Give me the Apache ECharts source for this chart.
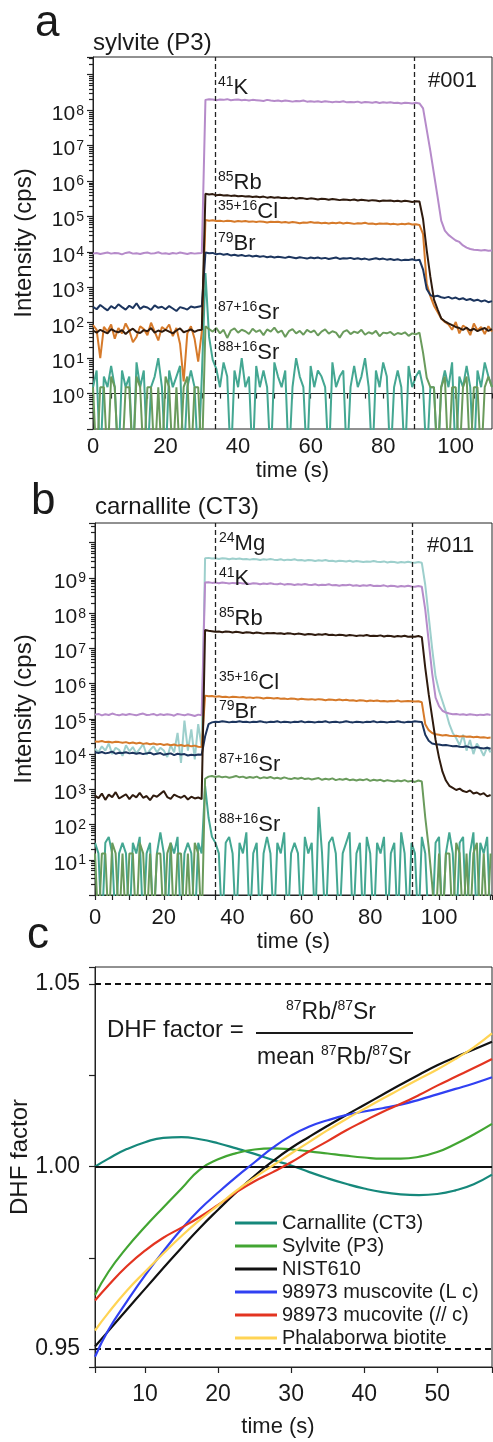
<!DOCTYPE html>
<html><head><meta charset="utf-8">
<script src="https://cdn.jsdelivr.net/npm/echarts@6/dist/echarts.min.js"></script>
<style>html,body{margin:0;padding:0;background:#fff}#c{width:493px;height:1442px}</style>
</head><body><div id="c"></div>
<script>
// ---------- DATA (panels a, b: log10 of intensity in cps, one sample per second; -2 / -1 = zero counts, below axis) ----------
// panel a : sylvite (P3), t = 0..110 s
const aK = [3.95,3.97,3.94,3.96,3.98,3.95,3.97,3.96,3.93,3.97,3.99,3.95,3.96,3.94,3.97,3.98,3.95,3.96,3.99,3.95,3.96,3.94,3.97,3.95,3.98,3.96,3.94,3.97,3.95,3.96,3.97,
8.29,8.31,8.30,8.28,8.30,8.29,8.31,8.28,8.29,8.30,8.28,8.29,8.27,8.29,8.28,8.27,8.26,8.29,8.27,8.26,8.27,8.25,8.27,8.26,8.24,8.26,8.25,8.27,8.24,8.25,
8.24,8.25,8.23,8.25,8.24,8.22,8.24,8.23,8.25,8.22,8.23,8.22,8.24,8.21,8.23,8.22,8.21,8.23,8.20,8.22,8.21,8.22,8.20,8.21,8.19,8.21,8.20,8.19,8.21,8.19,
8.05,7.45,6.85,6.20,5.55,4.88,4.60,4.48,4.40,4.32,4.28,4.18,4.12,4.08,4.06,4.05,4.04,4.05,4.03,4.04];
const aRb = [1.78,1.72,1.80,1.75,1.70,1.82,1.76,1.73,1.79,1.68,1.77,1.83,1.74,1.71,1.79,1.76,1.85,1.72,1.78,1.74,1.80,1.75,1.70,1.78,1.84,1.73,1.77,1.81,1.74,1.79,1.80,
5.64,5.62,5.63,5.60,5.61,5.59,5.60,5.58,5.59,5.57,5.58,5.56,5.57,5.55,5.56,5.54,5.56,5.53,5.55,5.53,5.54,5.52,5.53,5.51,5.53,5.50,5.52,5.51,5.49,5.51,
5.50,5.48,5.50,5.49,5.47,5.49,5.48,5.46,5.48,5.47,5.46,5.48,5.45,5.47,5.46,5.44,5.46,5.45,5.43,5.45,5.44,5.45,5.43,5.44,5.42,5.44,5.43,5.41,5.43,5.42,
4.92,4.05,3.30,2.65,2.38,2.12,2.04,1.98,1.93,1.88,1.85,1.80,1.86,1.78,1.83,1.76,1.81,1.85,1.77,1.82];
const aCl = [1.93,1.80,1.00,1.88,1.75,1.95,1.55,1.85,1.70,1.98,1.78,1.45,1.60,1.90,1.82,1.65,2.00,1.75,1.50,1.88,1.80,1.95,1.62,1.85,1.40,0.34,1.70,1.90,1.55,0.90,1.75,
4.90,4.88,4.89,4.87,4.88,4.86,4.88,4.87,4.85,4.87,4.86,4.87,4.85,4.86,4.84,4.86,4.85,4.83,4.85,4.84,4.85,4.83,4.84,4.82,4.84,4.83,4.81,4.83,4.82,4.84,
4.82,4.83,4.81,4.82,4.80,4.82,4.81,4.83,4.80,4.82,4.81,4.79,4.81,4.80,4.82,4.79,4.80,4.78,4.80,4.79,4.80,4.78,4.79,4.77,4.79,4.78,4.80,4.77,4.78,4.76,
4.50,3.10,2.75,2.48,2.30,2.12,2.02,1.95,1.80,2.02,1.70,1.92,1.85,1.65,1.98,1.78,1.88,1.68,1.90,1.75];
const aBr = [2.45,2.38,2.50,2.42,2.35,2.47,2.40,2.52,2.44,2.37,2.48,2.41,2.55,2.39,2.46,2.43,2.36,2.49,2.42,2.45,2.38,2.47,2.40,2.33,2.44,2.41,2.37,2.46,2.43,2.45,2.47,
3.98,3.96,3.97,3.93,3.95,3.92,3.94,3.90,3.92,3.89,3.91,3.88,3.90,3.87,3.89,3.86,3.88,3.85,3.87,3.84,3.86,3.85,3.83,3.86,3.84,3.82,3.85,3.83,3.81,3.84,
3.82,3.84,3.81,3.83,3.80,3.82,3.84,3.80,3.82,3.81,3.83,3.80,3.82,3.79,3.81,3.78,3.80,3.82,3.79,3.81,3.78,3.80,3.77,3.79,3.76,3.78,3.77,3.79,3.76,3.78,
3.50,2.95,2.78,2.74,2.76,2.72,2.70,2.73,2.68,2.71,2.66,2.69,2.64,2.67,2.62,2.65,2.60,2.63,2.58,2.61];
const aSr87 = [0.18,-2,0.18,0.18,-2,0.48,0.18,-2,-2,0.18,0.18,-2,0.48,0.18,-2,0.18,0.18,-2,0.18,-2,0.48,0.18,-2,0.18,-2,0.18,0.48,-2,0.18,0.18,-2,
1.90,1.82,1.75,1.85,1.70,1.80,1.57,1.78,1.84,1.72,1.80,1.76,1.68,1.83,1.74,1.79,1.65,1.81,1.75,1.86,1.72,1.78,1.60,1.76,1.82,1.70,1.77,1.66,1.80,1.73,
1.78,1.64,1.75,1.81,1.69,1.76,1.72,1.58,1.74,1.79,1.68,1.75,1.71,1.80,1.66,1.73,1.69,1.77,1.62,1.72,1.70,1.74,1.65,1.71,1.68,1.73,1.63,1.70,1.67,1.72,
1.15,0.45,0.18,0.18,-2,0.18,0.48,-2,0.18,0.18,-2,0.18,0.48,-2,0.18,0.18,-2,0.18,0.48,0.18];
const aSr88 = [0.18,0.65,-2,0.48,0.18,0.78,0.18,-2,0.65,0.18,0.48,-2,0.88,0.18,0.65,-2,0.18,0.48,1.0,0.18,-2,0.65,0.18,0.48,0.78,-2,0.18,0.65,0.18,-2,0.48,
3.4,1.6,0.95,0.7,
0.18,0.88,0.48,-2,0.65,0.18,1.0,0.18,0.48,-2,0.78,0.18,0.65,0.18,-2,0.88,0.48,0.18,0.65,-2,0.18,1.0,0.48,0.18,-2,0.78,0.18,0.65,0.48,0.18,
-2,0.88,0.18,0.48,0.65,-2,0.18,0.78,0.18,0.48,1.0,0.18,-2,0.65,0.18,0.88,0.48,-2,0.18,0.65,0.18,-2,0.78,0.18,0.48,0.65,0.18,-2,0.18,0.18,
-2,0.18,0.65,0.18,0.88,-2,0.48,0.18,0.78,0.18,-2,0.65,0.18,0.88,0.48,0.18];
const aDash = [33.7, 88.7];

// panel b : carnallite (CT3), t = 0..115 s
const bMg = [4.15,4.05,4.22,4.10,4.30,4.00,4.18,4.12,3.95,4.25,4.08,4.20,4.02,4.15,4.28,3.98,4.12,4.22,4.05,4.18,4.10,3.92,4.25,4.05,4.60,3.75,4.95,4.10,4.70,3.85,4.85,4.20,
9.56,9.57,9.55,9.56,9.54,9.56,9.55,9.53,9.55,9.54,9.55,9.53,9.54,9.52,9.54,9.53,9.51,9.53,9.52,9.54,9.52,9.51,9.53,9.50,9.52,9.51,9.53,9.50,9.51,9.49,
9.51,9.50,9.48,9.50,9.49,9.51,9.48,9.49,9.47,9.49,9.48,9.47,9.49,9.46,9.48,9.47,9.45,9.47,9.46,9.48,9.46,9.45,9.47,9.44,9.46,9.45,9.43,9.45,9.44,9.46,9.44,9.43,9.45,9.43,
8.8,7.9,7.0,6.2,5.8,5.5,5.2,4.85,4.6,4.45,4.25,4.55,4.1,4.4,4.0,4.3,4.15,3.95,4.2,4.05];
const bK = [5.12,5.14,5.10,5.13,5.11,5.15,5.12,5.10,5.13,5.11,5.14,5.12,5.10,5.13,5.15,5.11,5.12,5.14,5.10,5.13,5.11,5.13,5.12,5.09,5.14,5.12,5.10,5.13,5.11,5.08,5.12,5.10,
8.87,8.88,8.86,8.87,8.85,8.87,8.86,8.84,8.86,8.85,8.86,8.84,8.85,8.83,8.85,8.84,8.82,8.84,8.83,8.85,8.83,8.82,8.84,8.81,8.83,8.82,8.80,8.82,8.81,8.83,
8.81,8.80,8.82,8.79,8.81,8.80,8.82,8.79,8.80,8.78,8.80,8.79,8.81,8.78,8.79,8.77,8.79,8.78,8.80,8.77,8.78,8.77,8.79,8.76,8.78,8.77,8.75,8.77,8.76,8.78,8.76,8.75,8.77,8.75,
8.1,7.2,6.3,5.6,5.36,5.23,5.18,5.15,5.13,5.14,5.12,5.13,5.11,5.13,5.12,5.10,5.12,5.11,5.13,5.11];
const bRb = [2.82,2.75,2.88,2.70,2.85,2.78,2.92,2.74,2.80,2.86,2.72,2.84,2.77,2.90,2.76,2.81,2.69,2.83,2.79,2.87,2.95,2.78,2.73,2.85,2.80,2.76,2.82,2.71,2.79,2.74,2.77,2.72,
7.52,7.50,7.49,7.47,7.48,7.46,7.48,7.47,7.45,7.47,7.46,7.44,7.46,7.45,7.43,7.45,7.44,7.42,7.44,7.43,7.44,7.42,7.43,7.41,7.43,7.42,7.40,7.42,7.41,7.39,
7.41,7.40,7.38,7.40,7.39,7.41,7.38,7.39,7.37,7.39,7.38,7.36,7.38,7.37,7.35,7.37,7.36,7.38,7.35,7.36,7.35,7.37,7.34,7.36,7.35,7.33,7.35,7.34,7.36,7.33,7.34,7.33,7.35,7.32,
6.45,5.7,5.05,4.4,3.9,3.5,3.25,3.1,3.04,2.98,3.02,2.95,2.92,2.97,2.88,2.91,2.85,2.89,2.80,2.84];
const bCl = [4.36,4.35,4.37,4.34,4.35,4.33,4.35,4.34,4.32,4.34,4.31,4.33,4.30,4.32,4.29,4.31,4.28,4.30,4.27,4.29,4.26,4.28,4.25,4.27,4.24,4.26,4.23,4.25,4.22,4.24,4.21,4.20,
5.66,5.64,5.65,5.63,5.64,5.62,5.63,5.61,5.63,5.62,5.61,5.62,5.60,5.61,5.59,5.61,5.60,5.58,5.60,5.59,5.58,5.59,5.57,5.58,5.56,5.58,5.57,5.55,5.57,5.56,
5.55,5.56,5.54,5.56,5.55,5.53,5.55,5.54,5.53,5.55,5.53,5.54,5.52,5.53,5.51,5.53,5.52,5.50,5.52,5.51,5.52,5.50,5.51,5.49,5.51,5.50,5.52,5.49,5.50,5.51,5.50,5.49,5.50,5.47,
4.85,4.68,4.60,4.56,4.55,4.53,4.54,4.52,4.51,4.52,4.50,4.51,4.49,4.50,4.48,4.49,4.47,4.48,4.46,4.47];
const bBr = [4.05,4.03,4.06,4.02,4.04,4.07,4.01,4.04,4.03,4.05,4.02,4.04,4.01,4.03,4.00,4.02,4.04,3.99,4.01,4.03,3.98,4.00,4.02,3.97,4.01,3.99,4.00,3.96,3.98,3.97,3.99,3.98,
4.50,4.85,4.90,4.92,4.91,4.93,4.92,4.90,4.92,4.91,4.93,4.91,4.92,4.90,4.92,4.91,4.93,4.91,4.90,4.92,4.91,4.93,4.90,4.92,4.91,4.90,4.92,4.91,4.93,4.90,
4.92,4.91,4.90,4.92,4.91,4.93,4.90,4.91,4.92,4.90,4.91,4.93,4.91,4.90,4.92,4.91,4.90,4.92,4.91,4.93,4.90,4.92,4.91,4.90,4.92,4.91,4.93,4.91,4.90,4.92,4.91,4.93,4.92,4.91,
4.55,4.38,4.30,4.28,4.27,4.25,4.26,4.24,4.22,4.23,4.21,4.20,4.22,4.19,4.18,4.20,4.17,4.16,4.18,4.15];
const bSr87 = [1.18,-1,1.18,1.18,-1,1.48,1.18,-1,1.18,-1,1.18,1.18,-1,1.48,1.18,-1,1.18,-1,1.18,1.18,-1,1.18,1.48,-1,1.18,1.18,-1,1.18,-1,1.48,1.18,-1,
3.30,3.36,3.38,3.35,3.37,3.34,3.36,3.33,3.35,3.38,3.34,3.36,3.32,3.35,3.33,3.36,3.31,3.34,3.32,3.35,3.31,3.33,3.30,3.34,3.31,3.29,3.32,3.30,3.33,3.29,
3.31,3.28,3.30,3.32,3.27,3.30,3.28,3.31,3.26,3.29,3.27,3.30,3.26,3.28,3.25,3.28,3.26,3.29,3.24,3.27,3.25,3.27,3.23,3.26,3.24,3.22,3.25,3.23,3.26,3.22,3.24,3.21,3.25,3.22,
2.2,1.35,0.3,-1,1.18,-1,1.18,1.18,-1,1.48,1.18,-1,1.18,-1,1.18,1.48,-1,1.18,-1,1.18];
const bSr88 = [1.48,1.18,-1,1.48,1.65,1.18,-1,1.18,1.48,1.18,-1,1.48,1.18,1.65,-1,1.18,1.48,-1,1.18,1.78,1.18,-1,1.48,1.18,1.65,-1,1.18,1.48,1.18,-1,1.48,1.18,
3.1,2.2,1.65,1.48,
1.18,-1,1.48,1.65,1.18,-1,1.48,1.18,1.78,-1,1.18,1.48,-1,1.18,1.65,1.18,-1,1.48,1.18,1.78,-1,1.18,1.48,1.18,-1,1.65,1.18,1.48,-1,2.5,
1.18,-1,1.48,1.65,1.18,-1,1.18,1.48,1.78,-1,1.18,1.48,-1,1.65,1.18,-1,1.48,1.18,1.65,-1,1.18,1.48,-1,1.78,1.18,-1,1.48,1.18,-1,1.65,
1.18,-1,-1,1.48,1.65,-1,1.18,1.78,1.18,-1,1.48,1.65,-1,1.18,1.78,-1,1.48,1.18,1.65,-1];
const bDash = [34.9, 92.2];

// panel c : DHF factor vs time
const cTime = [3.15,5,7.5,10,12.5,15,17.5,20,22.5,25,27.5,30,32.5,35,37.5,40,42.5,45,47.5,50,52.5,55,57.5];
const cCarn = [1.0000,1.0022,1.0048,1.0067,1.0079,1.0081,1.0075,1.0064,1.0050,1.0035,1.0018,1.0003,0.9985,0.9968,0.9953,0.9940,0.9930,0.9924,0.9922,0.9925,0.9935,0.9952,0.9978];
const cSylv = [0.9648,0.9712,0.9778,0.9835,0.9888,0.9940,0.9992,1.0020,1.0037,1.0047,1.0050,1.0047,1.0042,1.0036,1.0030,1.0025,1.0022,1.0022,1.0027,1.0040,1.0062,1.0088,1.0117];
const cNist = [0.9507,0.9550,0.9608,0.9665,0.9722,0.9778,0.9832,0.9882,0.9930,0.9975,1.0015,1.0051,1.0082,1.0112,1.0141,1.0169,1.0197,1.0225,1.0252,1.0278,1.0300,1.0321,1.0342];
const cMusL = [0.9479,0.9553,0.9630,0.9702,0.9768,0.9829,0.9883,0.9929,0.9972,1.0012,1.0052,1.0085,1.0110,1.0127,1.0141,1.0151,1.0160,1.0170,1.0183,1.0198,1.0213,1.0228,1.0245];
const cMusP = [0.9633,0.9675,0.9727,0.9770,0.9805,0.9833,0.9862,0.9895,0.9930,0.9960,0.9985,1.0012,1.0042,1.0070,1.0099,1.0125,1.0150,1.0172,1.0196,1.0222,1.0246,1.0270,1.0295];
const cBiot = [0.9551,0.9600,0.9660,0.9712,0.9762,0.9810,0.9854,0.9894,0.9934,0.9970,1.0003,1.0036,1.0068,1.0100,1.0130,1.0158,1.0186,1.0213,1.0240,1.0266,1.0295,1.0327,1.0365];
const cNames = ['Carnallite (CT3)','Sylvite (P3)','NIST610','98973 muscovite (L c)','98973 mucovite (// c)','Phalaborwa biotite'];
const cRef = [1.0, 1.05, 0.95];

// ---------- CHART ----------
const FONT = "'Liberation Sans', Arial, Helvetica, sans-serif";
const INK = '#1a1a1a';
const AX = '#222';
const chart = echarts.init(document.getElementById('c'));

const pts = vals => vals.map((v, i) => [i, v]);
const cpts = vals => vals.map((v, i) => [cTime[i], v]);

const tickRich = {
  b: {fontSize: 21, fontFamily: FONT, color: INK, lineHeight: 21, padding: [8, 0, 0, 0]},
  s: {fontSize: 14, fontFamily: FONT, color: INK, lineHeight: 14, verticalAlign: 'top', padding: [4, 0, 0, 1]}
};
function logFmt(show) {
  return v => {
    const n = Math.round(v);
    if (Math.abs(v - n) > 1e-6 || show.indexOf(n) < 0) return '';
    return '{b|10}{s|' + n + '}';
  };
}
function xAx(grid, max, margin, gap) {
  return {
    gridIndex: grid, type: 'value', min: 0, max: max, splitNumber: 5,
    axisLine: {lineStyle: {color: AX, width: 1}},
    axisTick: {show: true, length: 5, lineStyle: {color: AX, width: 1.2}},
    minorTick: {show: true, splitNumber: 4, length: 5, lineStyle: {color: AX, width: 1.2}},
    splitLine: {show: false},
    axisLabel: {fontSize: 22, fontFamily: FONT, color: INK, margin: margin,
      formatter: v => (Math.abs(v % 20) < 1e-6 && v <= 100) ? String(v) : ''},
    name: 'time (s)', nameLocation: 'middle', nameGap: gap,
    nameTextStyle: {fontSize: 22, fontFamily: FONT, color: INK}
  };
}
function yLogAx(grid, min, max, show, extra) {
  return Object.assign({
    gridIndex: grid, type: 'value', min: min, max: max, splitNumber: 10,
    axisLine: {show: true, lineStyle: {color: AX, width: 1}},
    axisTick: {show: true, length: 6, lineStyle: {color: AX, width: 1.2}},
    splitLine: {show: false},
    axisLabel: {margin: 9, formatter: logFmt(show), rich: tickRich},
    name: 'Intensity (cps)', nameLocation: 'middle', nameGap: 57,
    nameTextStyle: {fontSize: 24, fontFamily: FONT, color: INK}
  }, extra);
}
function trace(vals, color, gi, z) {
  return {type: 'line', xAxisIndex: gi, yAxisIndex: gi, data: pts(vals), symbol: 'none', showSymbol: false,
    lineStyle: {color: color, width: 2}, itemStyle: {color: color}, z: z, clip: true, animation: false};
}
function dashes(xs) {
  return {silent: true, symbol: ['none', 'none'], label: {show: false}, animation: false,
    lineStyle: {color: '#222', width: 1.3, type: [5, 3]}, data: xs.map(x => ({xAxis: x}))};
}

const COL = {K: '#B68BCA', Rb: '#2F1B0E', Cl: '#D67A2A', Br: '#1C355E', Sr87: '#6A9B5C', Sr88: '#44A792', Mg: '#9DCFCC'};

const sA = [trace(aSr88, COL.Sr88, 0, 2), trace(aSr87, COL.Sr87, 0, 3), trace(aK, COL.K, 0, 4),
  trace(aCl, COL.Cl, 0, 5), trace(aBr, COL.Br, 0, 6), trace(aRb, COL.Rb, 0, 7)];
sA[5].markLine = dashes(aDash);
const sB = [trace(bSr88, COL.Sr88, 1, 2), trace(bSr87, COL.Sr87, 1, 3), trace(bMg, COL.Mg, 1, 3), trace(bK, COL.K, 1, 4),
  trace(bCl, COL.Cl, 1, 5), trace(bBr, COL.Br, 1, 6), trace(bRb, COL.Rb, 1, 7)];
sB[6].markLine = dashes(bDash);

const cCols = ['#16887B', '#42A532', '#111111', '#3040F2', '#E33420', '#FFD454'];
const cVals = [cCarn, cSylv, cNist, cMusL, cMusP, cBiot];
const sC = cVals.map((v, i) => ({
  type: 'line', name: cNames[i], xAxisIndex: 2, yAxisIndex: 2, data: cpts(v), smooth: true,
  symbol: 'none', showSymbol: false, lineStyle: {color: cCols[i], width: 2.2}, itemStyle: {color: cCols[i]},
  z: 3 + i, animation: false
}));
sC[0].markLine = {silent: true, symbol: ['none', 'none'], label: {show: false}, animation: false,
  data: [
    {yAxis: cRef[0], lineStyle: {color: '#111', width: 2, type: 'solid'}},
    {yAxis: cRef[1], lineStyle: {color: '#111', width: 2, type: [6, 4]}},
    {yAxis: cRef[2], lineStyle: {color: '#111', width: 2, type: [6, 4]}}
  ]};

// log-scale minor ticks (2..9 x 10^n) drawn as a custom series through the axes' own scales
function minorLogTicks(gi, lo, hi) {
  const d = [];
  for (let n = Math.floor(lo); n < hi; n++) {
    for (let k = 2; k < 10; k++) { const v = n + Math.log10(k); if (v > lo && v < hi) d.push([0, v]); }
  }
  return {type: 'custom', xAxisIndex: gi, yAxisIndex: gi, data: d, silent: true, clip: false, z: 20, animation: false,
    encode: {x: 0, y: 1},
    renderItem: (params, api) => {
      const c = api.coord([api.value(0), api.value(1)]);
      const y = Math.round(c[1]) + 0.5;
      return {type: 'line', shape: {x1: c[0] - 4, y1: y, x2: c[0], y2: y}, style: {stroke: '#222', lineWidth: 1.2}};
    }};
}

const annRich = {
  b: {fontSize: 22, fontFamily: FONT, fill: INK, color: INK, lineHeight: 22, padding: [3, 0, 0, 0]},
  s: {fontSize: 14, fontFamily: FONT, fill: INK, color: INK, lineHeight: 14, verticalAlign: 'top'}
};
function txt(x, y, text, size, align, extra) {
  return {type: 'text', x: x, y: y, silent: true, z: 50,
    style: Object.assign({text: text, fill: INK, fontSize: size, fontFamily: FONT,
      align: align || 'left', verticalAlign: 'middle', textAlign: align || 'left', textVerticalAlign: 'middle'}, extra || {})};
}
function ann(x, y, text, align, rich) { return txt(x, y, text, 22, align, {rich: rich || annRich}); }
const fracRich = {
  b: {fontSize: 23, fontFamily: FONT, fill: INK, color: INK, lineHeight: 23, padding: [3, 0, 0, 0]},
  s: {fontSize: 14, fontFamily: FONT, fill: INK, color: INK, lineHeight: 14, verticalAlign: 'top'}
};
const dhfTitle = txt(20, 1157, 'DHF factor', 24, 'center');
dhfTitle.rotation = Math.PI / 2;

const graphics = [
  txt(35, 24, 'a', 44), txt(31, 502, 'b', 44), txt(27, 936, 'c', 44),
  txt(93, 43, 'sylvite (P3)', 24), txt(95, 507, 'carnallite (CT3)', 24),
  ann(218, 86, '{s|41}{b|K}'), ann(428, 79, '{b|#001}'),
  ann(218, 181, '{s|85}{b|Rb}'), ann(218, 210, '{s|35+16}{b|Cl}'), ann(218, 242, '{s|79}{b|Br}'),
  ann(218, 311, '{s|87+16}{b|Sr}'), ann(218, 351, '{s|88+16}{b|Sr}'),
  ann(219, 542, '{s|24}{b|Mg}'), ann(427, 544, '{b|#011}'), ann(219, 577, '{s|41}{b|K}'),
  ann(219, 617, '{s|85}{b|Rb}'), ann(219, 681, '{s|35+16}{b|Cl}'), ann(219, 710, '{s|79}{b|Br}'),
  ann(219, 763, '{s|87+16}{b|Sr}'), ann(219, 823, '{s|88+16}{b|Sr}'),
  txt(107, 1030, 'DHF factor =', 24),
  ann(331, 1011, '{s|87}{b|Rb/}{s|87}{b|Sr}', 'center', fracRich),
  {type: 'line', silent: true, z: 50, shape: {x1: 256, y1: 1033, x2: 413, y2: 1033}, style: {stroke: INK, lineWidth: 2}},
  ann(334, 1056, '{b|mean }{s|87}{b|Rb/}{s|87}{b|Sr}', 'center', fracRich),
  txt(278, 1427, 'time (s)', 22, 'center'),
  dhfTitle
];

const gridBase = {show: true, borderColor: AX, borderWidth: 1, containLabel: false, outerBoundsMode: 'none'};
const option = {
  animation: false,
  backgroundColor: '#fff',
  grid: [
    Object.assign({left: 93, top: 57, width: 399, height: 372}, gridBase),
    Object.assign({left: 95, top: 523, width: 397, height: 372}, gridBase),
    Object.assign({left: 95, top: 967, width: 397, height: 400}, gridBase)
  ],
  xAxis: [
    xAx(0, 110, 7, 31),
    xAx(1, 115.4, 12, 36),
    {gridIndex: 2, type: 'value', min: 3.15, max: 57.5, splitNumber: 5,
      axisLine: {lineStyle: {color: AX, width: 1}}, axisTick: {length: 6, lineStyle: {color: AX, width: 1.2}},
      splitLine: {show: false},
      axisLabel: {fontSize: 23, fontFamily: FONT, color: INK, margin: 16,
        formatter: v => (Math.abs(v / 10 - Math.round(v / 10)) < 1e-6) ? String(Math.round(v)) : ''}}
  ],
  yAxis: [
    yLogAx(0, -1, 9.5, [0, 1, 2, 3, 4, 5, 6, 7, 8], {}),
    yLogAx(1, 0, 10.56, [1, 2, 3, 4, 5, 6, 7, 8, 9], {nameGap: 59}),
    {gridIndex: 2, type: 'value', min: 0.9451, max: 1.0547, splitNumber: 2,
      axisLine: {lineStyle: {color: AX, width: 1}}, axisTick: {length: 6, lineStyle: {color: AX, width: 1.2}},
      minorTick: {show: true, splitNumber: 2, length: 6, lineStyle: {color: AX, width: 1.2}},
      splitLine: {show: false},
      axisLabel: {fontSize: 23, fontFamily: FONT, color: INK, margin: 15,
        formatter: v => (Math.abs(v * 20 - Math.round(v * 20)) < 1e-6) ? v.toFixed(2) : ''}}
  ],
  legend: {
    data: cNames, orient: 'vertical', left: 230, top: 1208, icon: 'rect', itemWidth: 42, itemHeight: 3, itemGap: 3,
    textStyle: {fontSize: 20, fontFamily: FONT, color: INK}, selectedMode: false
  },
  series: [].concat(sA, sB, sC, [minorLogTicks(0, -1, 9.5), minorLogTicks(1, 0, 10.56)]),
  graphic: graphics
};
chart.setOption(option);
</script></body></html>
